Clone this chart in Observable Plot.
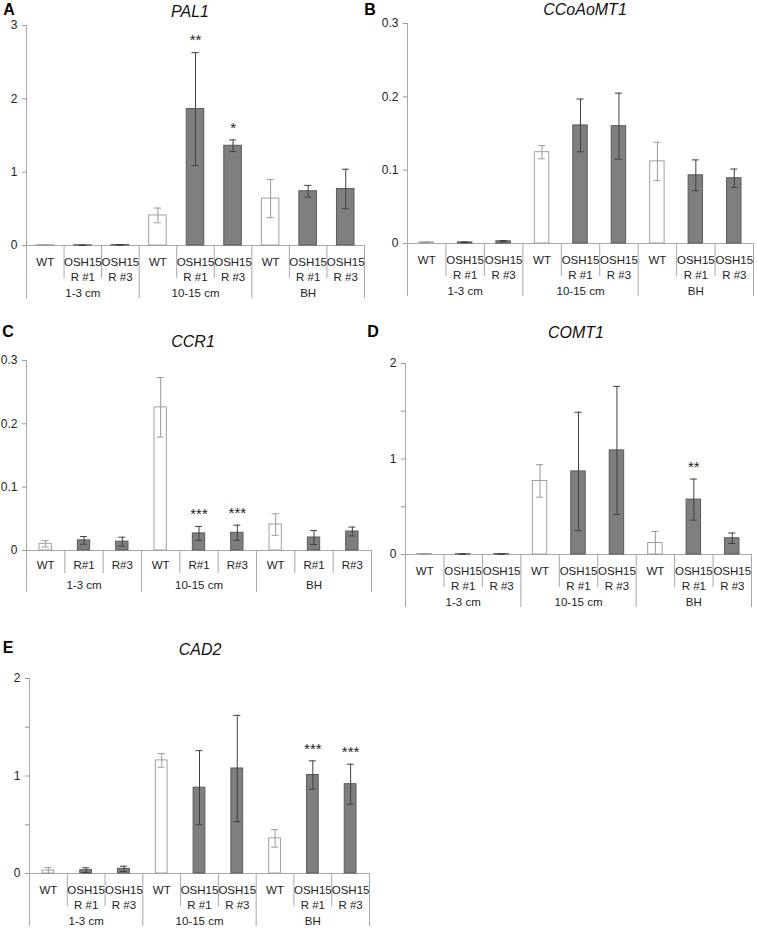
<!DOCTYPE html>
<html><head><meta charset="utf-8">
<script src="https://cdn.jsdelivr.net/npm/d3@7"></script>
<script src="https://cdn.jsdelivr.net/npm/@observablehq/plot@0.6"></script>
<style>
body{margin:0;background:#fff;font-family:"Liberation Sans",Arial,sans-serif;}
#fig{position:relative;width:757px;height:930px;overflow:hidden;background:#fff}
.slot{position:absolute}
.slot svg{overflow:visible;background:transparent}
.title{position:absolute;transform:translate(-50%,-50%);font-style:italic;font-size:16px;color:#111;white-space:nowrap;line-height:1}
.letter{position:absolute;transform:translate(-50%,-50%);font-weight:bold;font-size:16px;color:#000;line-height:1}
.slot svg g[aria-label^="y-axis"] line,
.slot svg g[aria-label="y-axis tick"] path{stroke:#9a9a9a}
.slot svg g[aria-label^="y-axis"] text{font-size:12px !important;fill:#222}
.slot svg g[aria-label^="y-axis"]{font-size:12px !important}
</style>
</head><body>
<div id="fig"></div>
<script>
// ---- data ----
const groups = ["1-3 cm", "10-15 cm", "BH"];
const lines = ["WT", "OSH15 R #1", "OSH15 R #3"];
const labelsLong = ["WT", "OSH15\nR #1", "OSH15\nR #3"];
const labelsShort = ["WT", "R#1", "R#3"];

const pal1Mean = [0.004, 0.003, 0.006, 0.41, 1.86, 1.36, 0.64, 0.74, 0.77];
const pal1Err  = [0.002, 0.001, 0.002, 0.10, 0.77, 0.08, 0.26, 0.08, 0.27];
const pal1Sig  = ["", "", "", "", "**", "*", "", "", ""];
const pal1Ticks = [0, 1, 2, 3];

const ccoaomt1Mean = [0.0015, 0.0015, 0.003, 0.1245, 0.161, 0.160, 0.112, 0.093, 0.089];
const ccoaomt1Err  = [0.0005, 0.0005, 0.001, 0.009, 0.036, 0.045, 0.026, 0.021, 0.0125];
const ccoaomt1Sig  = ["", "", "", "", "", "", "", "", ""];
const ccoaomt1Ticks = [0, 0.1, 0.2, 0.3];

const ccr1Mean = [0.0105, 0.016, 0.014, 0.226, 0.027, 0.028, 0.041, 0.0205, 0.030];
const ccr1Err  = [0.005, 0.006, 0.007, 0.047, 0.011, 0.012, 0.017, 0.011, 0.007];
const ccr1Sig  = ["", "", "", "", "***", "***", "", "", ""];
const ccr1Ticks = [0, 0.1, 0.2, 0.3];

const comt1Mean = [0.005, 0.003, 0.004, 0.77, 0.87, 1.09, 0.12, 0.575, 0.17];
const comt1Err  = [0.002, 0.001, 0.002, 0.17, 0.62, 0.67, 0.12, 0.215, 0.055];
const comt1Sig  = ["", "", "", "", "", "", "", "**", ""];
const comt1Ticks = [0, 0.5, 1, 1.5, 2];

const cad2Mean = [0.03, 0.034, 0.048, 1.16, 0.88, 1.077, 0.36, 1.01, 0.916];
const cad2Err  = [0.03, 0.025, 0.027, 0.07, 0.38, 0.545, 0.09, 0.145, 0.205];
const cad2Sig  = ["", "", "", "", "", "", "", "***", "***"];
const cad2Ticks = [0, 0.5, 1, 1.5, 2];

// ---- styling ----
const AXIS = "#a8a8a8";
const DARK_FILL = "#7f7f7f", DARK_STROKE = "#5a5a5a", DARK_ERR = "#404040";
const WT_STROKE = "#a0a0a0", WT_ERR = "#9a9a9a";
const TEXT = "#222";

const fig = document.getElementById("fig");

function panel({mean, err, sig, ticks, labels, frame, twoLine, barInset}) {
  const rows = mean.map((v, i) => ({
    lo: i, hi: i + 1, pos: i + 0.5,
    group: groups[Math.floor(i / 3)], line: lines[i % 3], label: labels[i % 3],
    wt: i % 3 === 0, v, e: err[i], sig: sig[i]
  }));
  const groupRows = groups.map((g, k) => ({g, pos: k * 3 + 1.5}));
  const bounds = d3.range(0, mean.length + 1);
  const inner = bounds.filter(b => b % 3 !== 0);
  const outer = bounds.filter(b => b % 3 === 0);
  const L = twoLine
    ? {rowDy: 9.5, rowAnchor: "top", lh: 1.32, grp: 48, inner: 33, outer: 53}
    : {rowDy: 15, rowAnchor: "middle", lh: 1, grp: 35, inner: 23, outer: 42};
  const mL = 40, mR = 6, mT = 14, mB = 62;
  const width = frame.x1 - frame.x0 + mL + mR;
  const height = frame.yZero - frame.yTop + mT + mB;
  const isInt = ticks.every(Number.isInteger);
  const capOpts = {insetLeft: -3.5, insetRight: -3.5};
  const chart = Plot.plot({
    width, height,
    marginLeft: mL, marginRight: mR, marginTop: mT, marginBottom: mB,
    style: {fontFamily: "'Liberation Sans', Arial, sans-serif", fontSize: "12px", color: TEXT, background: "transparent", overflow: "visible"},
    x: {domain: [0, mean.length], axis: null},
    y: {domain: [0, d3.max(ticks)], ticks, tickSize: 4, tickPadding: 5, label: null,
        tickFormat: d => (isInt || Number.isInteger(d) || d3.max(ticks) < 1) ? String(d) : ""},
    marks: [
      Plot.ruleX([0], {stroke: AXIS}),
      Plot.ruleY([0], {stroke: AXIS}),
      Plot.ruleX(inner, {x: d => d, y1: 0, y2: 0, insetBottom: -L.inner, stroke: AXIS}),
      Plot.ruleX(outer, {x: d => d, y1: 0, y2: 0, insetBottom: -L.outer, stroke: AXIS}),
      Plot.rectY(rows.filter(d => d.wt), {x1: "lo", x2: "hi", y1: 0, y2: "v", insetLeft: barInset, insetRight: barInset, fill: "white", stroke: WT_STROKE}),
      Plot.rectY(rows.filter(d => !d.wt), {x1: "lo", x2: "hi", y1: 0, y2: "v", insetLeft: barInset, insetRight: barInset, fill: DARK_FILL, stroke: DARK_STROKE}),
      Plot.ruleX(rows, {x: "pos", y1: d => Math.max(0, d.v - d.e), y2: d => d.v + d.e, stroke: d => d.wt ? WT_ERR : DARK_ERR}),
      Plot.ruleY(rows, {x1: "pos", x2: "pos", y: d => d.v + d.e, stroke: d => d.wt ? WT_ERR : DARK_ERR, ...capOpts}),
      Plot.ruleY(rows, {x1: "pos", x2: "pos", y: d => Math.max(0, d.v - d.e), stroke: d => d.wt ? WT_ERR : DARK_ERR, ...capOpts}),
      Plot.text(rows.filter(d => d.sig), {x: "pos", y: d => d.v + d.e, text: "sig", dy: -12, fontSize: 15, fill: "#222"}),
      Plot.text(rows, {x: "pos", y: 0, text: "label", dy: L.rowDy, lineAnchor: L.rowAnchor, lineHeight: L.lh, fontSize: 11.5, fill: TEXT}),
      Plot.text(groupRows, {x: "pos", y: 0, text: "g", dy: L.grp, fontSize: 11.5, fill: TEXT})
    ]
  });
  const slot = document.createElement("div");
  slot.className = "slot";
  slot.style.left = (frame.x0 - mL) + "px";
  slot.style.top = (frame.yTop - mT) + "px";
  slot.style.width = width + "px";
  slot.style.height = height + "px";
  slot.appendChild(chart);
  fig.appendChild(slot);
}

function label(cls, text, x, y) {
  const d = document.createElement("div");
  d.className = cls;
  d.textContent = text;
  d.style.left = x + "px";
  d.style.top = y + "px";
  fig.appendChild(d);
}

panel({mean: pal1Mean, err: pal1Err, sig: pal1Sig, ticks: pal1Ticks, labels: labelsLong,
       frame: {x0: 26, x1: 364, yTop: 25, yZero: 245}, twoLine: true, barInset: 10});
panel({mean: ccoaomt1Mean, err: ccoaomt1Err, sig: ccoaomt1Sig, ticks: ccoaomt1Ticks, labels: labelsLong,
       frame: {x0: 407, x1: 753, yTop: 23, yZero: 243}, twoLine: true, barInset: 12});
panel({mean: ccr1Mean, err: ccr1Err, sig: ccr1Sig, ticks: ccr1Ticks, labels: labelsShort,
       frame: {x0: 26, x1: 371, yTop: 360, yZero: 550}, twoLine: false, barInset: 13});
panel({mean: comt1Mean, err: comt1Err, sig: comt1Sig, ticks: comt1Ticks, labels: labelsLong,
       frame: {x0: 405, x1: 751, yTop: 363, yZero: 554}, twoLine: true, barInset: 12});
panel({mean: cad2Mean, err: cad2Err, sig: cad2Sig, ticks: cad2Ticks, labels: labelsLong,
       frame: {x0: 29, x1: 369, yTop: 678, yZero: 873}, twoLine: true, barInset: 13});

label("title", "PAL1", 190, 12);
label("title", "CCoAoMT1", 585, 10);
label("title", "CCR1", 193, 342);
label("title", "COMT1", 576, 333);
label("title", "CAD2", 200, 650);
label("letter", "A", 9, 10);
label("letter", "B", 370, 10);
label("letter", "C", 8, 332);
label("letter", "D", 373, 332);
label("letter", "E", 8, 648);
</script>
</body></html>
